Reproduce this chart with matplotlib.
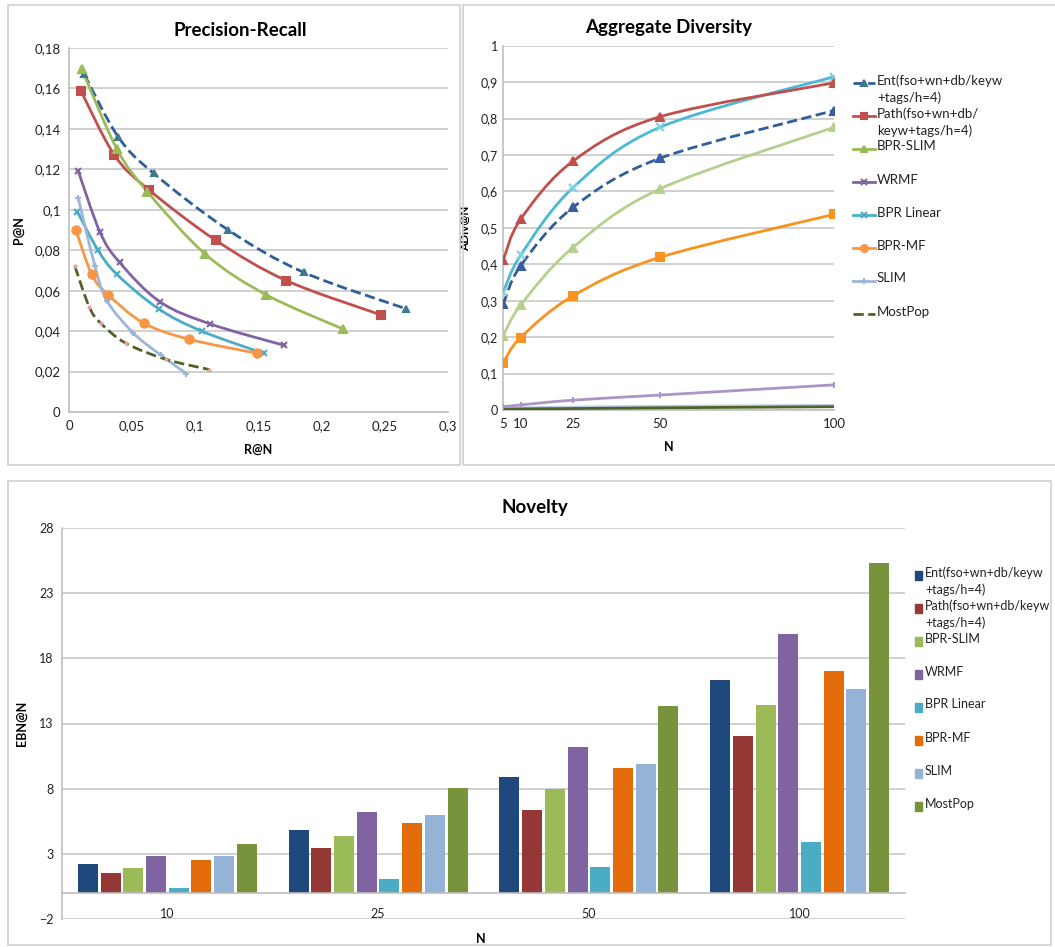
import matplotlib.pyplot as plt
import numpy as np
from matplotlib.path import Path
from matplotlib.patches import PathPatch, Rectangle
from matplotlib.lines import Line2D
from matplotlib.ticker import FuncFormatter

plt.rcParams['font.family'] = ['Lato', 'DejaVu Sans']

# legend names
methods_div = ['Ent(fso+wn+db/keyw\n+tags/h=4)', 'Path(fso+wn+db/\nkeyw+tags/h=4)', 'BPR-SLIM',
               'WRMF', 'BPR Linear', 'BPR-MF', 'SLIM', 'MostPop']
methods_nov = ['Ent(fso+wn+db/keyw\n+tags/h=4)', 'Path(fso+wn+db/keyw\n+tags/h=4)', 'BPR-SLIM',
               'WRMF', 'BPR Linear', 'BPR-MF', 'SLIM', 'MostPop']

# precision-recall (one list per method, same order as methods)
pr_recall = [
    [0.012, 0.039, 0.067, 0.126, 0.186, 0.267],
    [0.0095, 0.036, 0.063, 0.116, 0.172, 0.247],
    [0.010, 0.038, 0.062, 0.108, 0.156, 0.217],
    [0.0074, 0.0245, 0.040, 0.072, 0.112, 0.170],
    [0.0066, 0.023, 0.038, 0.071, 0.105, 0.154],
    [0.0055, 0.018, 0.031, 0.059, 0.095, 0.149],
    [0.0074, 0.0206, 0.030, 0.051, 0.073, 0.093],
    [0.0047, 0.016, 0.025, 0.045, 0.077, 0.111],
]
pr_precision = [
    [0.167, 0.136, 0.118, 0.090, 0.069, 0.051],
    [0.1587, 0.127, 0.110, 0.085, 0.065, 0.048],
    [0.1696, 0.130, 0.109, 0.078, 0.058, 0.041],
    [0.119, 0.089, 0.074, 0.0545, 0.0435, 0.033],
    [0.099, 0.080, 0.068, 0.051, 0.040, 0.029],
    [0.090, 0.068, 0.058, 0.044, 0.036, 0.029],
    [0.1056, 0.072, 0.055, 0.039, 0.028, 0.019],
    [0.072, 0.052, 0.044, 0.034, 0.026, 0.021],
]

# aggregate diversity
div_n = [5, 10, 25, 50, 100]
div_red = [0.412, 0.524, 0.683, 0.805, 0.898]
div_cyan = [0.323, 0.425, 0.610, 0.776, 0.915]
div_blue = [0.291, 0.396, 0.556, 0.691, 0.822]
div_lgreen = [0.204, 0.288, 0.446, 0.607, 0.776]
div_orange = [0.130, 0.199, 0.313, 0.419, 0.537]
div_purple = [0.009, 0.014, 0.027, 0.041, 0.069]
div_lblue = [0.005, 0.006, 0.008, 0.010, 0.013]
div_dgreen = [0.002, 0.003, 0.004, 0.006, 0.009]

# novelty
nov_n = ['10', '25', '50', '100']
nov_vals = [
    [2.2, 4.83, 8.9, 16.3],
    [1.55, 3.41, 6.39, 12.06],
    [1.88, 4.35, 7.99, 14.4],
    [2.8, 6.23, 11.22, 19.87],
    [0.41, 1.04, 2.01, 3.92],
    [2.49, 5.34, 9.57, 17.0],
    [2.82, 6.0, 9.92, 15.67],
    [3.72, 8.04, 14.38, 25.34],
]

line_colors = ['#2F5E98', '#C0504D', '#9BBB59', '#8064A2', '#4BACC6', '#F79646', '#9DB6D8', '#4F6228']
line_styles = ['--', '-', '-', '-', '-', '-', '-', '--']
line_markers = ['^', 's', '^', 'x', 'x', 'o', '+', '.']
marker_colors = ['#3E7A8C', '#C0504D', '#9BBB59', '#8064A2', '#4BACC6', '#F79646', '#9DB6D8', '#E3A3A3']
marker_sizes = [4, 6, 6, 5, 5, 6, 5, 3]
bar_colors = ['#1F497D', '#953735', '#9BBB59', '#8064A2', '#4BACC6', '#E46C0A', '#95B3D7', '#77933C']

GRID = '#C8C8C8'
W, H = 1055, 947


def fx(px):
    return px / W


def fy(py):
    return 1 - py / H


def smooth(x, y):
    # excel style smoothed line as bezier segments
    pts = np.column_stack([x, y]).astype(float)
    n = len(pts)
    verts = [pts[0]]
    codes = [Path.MOVETO]
    for i in range(n - 1):
        p0 = pts[i - 1] if i > 0 else pts[i]
        p1 = pts[i]
        p2 = pts[i + 1]
        p3 = pts[i + 2] if i + 2 < n else pts[i + 1]
        verts += [p1 + (p2 - p0) / 6, p2 - (p3 - p1) / 6, p2]
        codes += [Path.CURVE4] * 3
    return Path(verts, codes)


def draw_line(ax, x, y, color, ls, marker, mcolor, ms, lw=2):
    ax.add_patch(PathPatch(smooth(x, y), facecolor='none', edgecolor=color, lw=lw,
                           linestyle=ls, capstyle='butt', zorder=3))
    if marker:
        ax.plot(x, y, linestyle='none', marker=marker, color=mcolor, ms=ms, mew=1.5, zorder=4)


def style_axes(ax):
    ax.grid(axis='y', color=GRID, lw=1.2)
    ax.set_axisbelow(True)
    for s in ['top', 'right']:
        ax.spines[s].set_visible(False)
    for s in ['left', 'bottom']:
        ax.spines[s].set_color('#BFBFBF')
        ax.spines[s].set_linewidth(1.2)
    ax.tick_params(length=0, labelsize=9.5, colors='#222222', pad=6)


def legend_text(x, y, label, size):
    # first line centred on y, excel style fixed slots
    fig.text(fx(x), fy(y - 8.5), label, fontsize=size, va='top', ha='left',
             linespacing=1.45, color='#222222')


comma = FuncFormatter(lambda v, p: ('%g' % round(v, 3)).replace('.', ','))

fig = plt.figure(figsize=(10.55, 9.47), dpi=100)

# chart area borders
for x0, y0, w, h in [(8, 5, 452, 460), (463, 5, 600, 460), (8, 481, 1043, 464)]:
    fig.patches.append(Rectangle((fx(x0), fy(y0 + h)), w / W, h / H,
                                 transform=fig.transFigure, fill=False,
                                 edgecolor='#D0D0D0', lw=1.2))

# Precision-Recall
ax1 = fig.add_axes([fx(69), fy(412), 379 / W, 364 / H])
for i in range(len(methods_div)):
    draw_line(ax1, pr_recall[i], pr_precision[i], line_colors[i], line_styles[i],
              line_markers[i], marker_colors[i], marker_sizes[i])
ax1.set_xlim(0, 0.3)
ax1.set_ylim(0, 0.18)
ax1.set_xticks(np.arange(0, 0.31, 0.05))
ax1.set_yticks(np.arange(0, 0.181, 0.02))
ax1.xaxis.set_major_formatter(comma)
ax1.yaxis.set_major_formatter(comma)
style_axes(ax1)
ax1.set_title('Precision-Recall', fontsize=13.5, fontweight='bold', pad=9, x=0.451)
ax1.set_xlabel('R@N', fontsize=9, fontweight='bold', labelpad=8)
ax1.set_ylabel('P@N', fontsize=9, fontweight='bold', labelpad=7)

# Aggregate Diversity
ax2 = fig.add_axes([fx(503.3), fy(410), 330.7 / W, 364.3 / H])
div_series = [
    (div_lblue, '#B9CDE5', '-', None, None, 0),
    (div_dgreen, '#4F6228', '-', None, None, 0),
    (div_purple, '#A996C6', '-', '+', '#A996C6', 5),
    (div_orange, '#F7931E', '-', 's', '#F7931E', 6),
    (div_lgreen, '#B5D08C', '-', '^', '#B5D08C', 6),
    (div_blue, '#2F5E98', '--', '^', '#3A5DA0', 5.5),
    (div_cyan, '#4BB8D4', '-', 'x', '#7FD0E3', 5.5),
    (div_red, '#C0504D', '-', '^', '#C0504D', 6),
]
for ys, c, ls, m, mc, ms in div_series:
    draw_line(ax2, div_n, ys, c, ls, m, mc, ms)
ax2.set_xlim(5, 100)
ax2.set_ylim(0, 1)
ax2.set_xticks(div_n)
ax2.set_yticks(np.arange(0, 1.01, 0.1))
ax2.yaxis.set_major_formatter(comma)
style_axes(ax2)
ax2.tick_params(axis='y', pad=4, labelsize=9)
ax2.set_title('Aggregate Diversity', fontsize=13.5, fontweight='bold', pad=9)
ax2.set_xlabel('N', fontsize=9, fontweight='bold', labelpad=8)
ax2.set_ylabel('ADiv@N', fontsize=8.5, fontweight='bold')
ax2.yaxis.set_label_coords(-0.098, 0.5)

# line legend (fixed 33 px slots)
for i, label in enumerate(methods_div):
    y = 83 + 33 * i
    fig.add_artist(Line2D([fx(853), fx(875)], [fy(y), fy(y)], color=line_colors[i],
                          ls=line_styles[i], lw=2, transform=fig.transFigure))
    if line_markers[i] != '.':
        fig.add_artist(Line2D([fx(864)], [fy(y)], marker=line_markers[i], ms=5, mew=1.5,
                              color=marker_colors[i], transform=fig.transFigure))
    legend_text(877, y, label, 9.5)

# Novelty
ax3 = fig.add_axes([fx(62), fy(919), 843 / W, 391 / H])
xpos = np.arange(len(nov_n))
pitch = 0.1077
for i in range(len(methods_nov)):
    ax3.bar(xpos + (i - 3.5) * pitch, nov_vals[i], width=0.095, color=bar_colors[i],
            label=methods_nov[i], zorder=3)
ax3.set_xlim(-0.5, 3.5)
ax3.set_ylim(-2, 28)
ax3.set_yticks(np.arange(-2, 29, 5))
ax3.set_xticks(xpos)
ax3.set_xticklabels(nov_n)
style_axes(ax3)
ax3.spines['bottom'].set_position(('data', 0))
ax3.spines['bottom'].set_zorder(4)
ax3.tick_params(axis='x', pad=11, labelsize=9)
ax3.tick_params(axis='y', labelsize=9)
ax3.set_title('Novelty', fontsize=13.5, fontweight='bold', pad=11, x=0.561)
ax3.set_xlabel('N', fontsize=9, fontweight='bold')
ax3.xaxis.set_label_coords(0.497, -0.036)
ax3.set_ylabel('EBN@N', fontsize=9, fontweight='bold', labelpad=8)

# bar legend
for i, label in enumerate(methods_nov):
    y = 575 + 33 * i
    fig.patches.append(Rectangle((fx(915), fy(y + 5)), 7 / W, 9 / H, color=bar_colors[i],
                                 transform=fig.transFigure))
    legend_text(925, y, label, 9)

fig.savefig('out.png', dpi=100)
